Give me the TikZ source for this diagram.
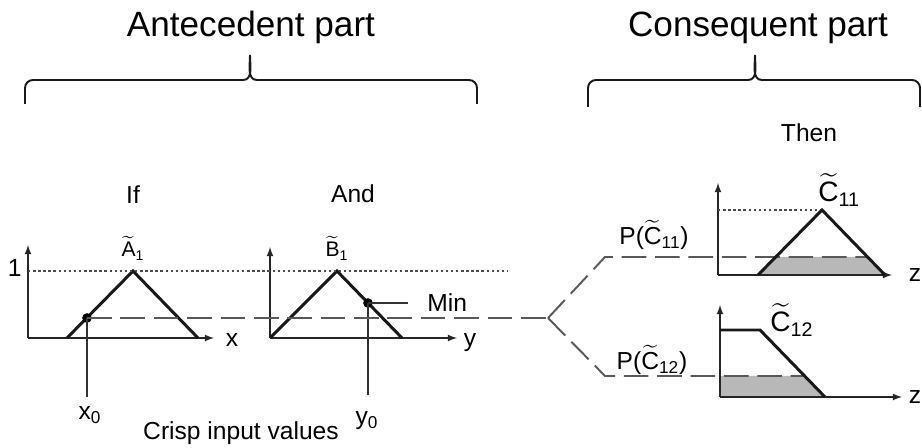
\documentclass[tikz,border=0pt]{standalone}
\usepackage{amsmath}
\usepackage{fontspec}
\setmainfont{Liberation Sans}
\usetikzlibrary{calc}

\newcommand{\tl}[1]{$\widetilde{\text{#1}}$}

\begin{document}
\begin{tikzpicture}[x=0.02cm,y=-0.02cm]
\tikzstyle{axis}=[line width=0.8pt,black!85,-latex]
\tikzstyle{mf}=[line width=1.7pt,black!90,line join=miter]
\tikzstyle{cut}=[line width=1.1pt,black!65,dash pattern=on 14pt off 5pt]
\tikzstyle{one}=[line width=0.9pt,black!70,dash pattern=on 1.4pt off 1.5pt]
\tikzstyle{stem}=[line width=0.8pt,black!80]
\tikzstyle{brace}=[line width=1.1pt,black!90]
\tikzstyle{shade}=[fill=black!28,draw=none]
\tikzstyle{dot}=[circle,fill=black,inner sep=0pt,minimum size=5.5pt]
\tikzstyle{lbl}=[inner sep=0pt,anchor=base,font=\fontsize{14}{16}\selectfont]
\tikzstyle{head}=[inner sep=0pt,anchor=base,font=\fontsize{20}{24}\selectfont]

	\useasboundingbox (0,0) rectangle (922,448);

	% headings and braces
	\node[head] (ante) at (251,37) {Antecedent part};
	\node[head] (cons) at (758,37) {Consequent part};
	\draw[brace] (25,104) -- (25,88) to[out=90,in=180] (33,80) -- (243,80) to[out=0,in=-90] (250,55) to[out=-90,in=180] (257,80) -- (469,80) to[out=0,in=90] (477,88) -- (477,104);
	\draw[brace] (588,107) -- (588,88) to[out=90,in=180] (596,80) -- (748,80) to[out=0,in=-90] (755,55) to[out=-90,in=180] (762,80) -- (912,80) to[out=0,in=90] (920,88) -- (920,107);

	% shaded parts of the consequents
	\begin{scope}[shift={(718,275)}]
		\fill[shade] (40,0) -- (58,-18) -- (149,-18) -- (167,0) -- cycle;
	\end{scope}
	\begin{scope}[shift={(720,397)}]
		\fill[shade] (0,0) -- (0,-21) -- (85,-21) -- (105,0) -- cycle;
	\end{scope}

	% if
	\begin{scope}[shift={(28,338)}]
		\draw[axis] (0,0) -- (0,-93);
		\draw[axis] (0,0) -- (186,0);
		\draw[mf] (39,0) -- (105,-67) -- (170,0);
		\coordinate (onea) at (0,-67);
		\node[dot] (pa) at (59,-20) {};
		\coordinate (xfoot) at (59,59);
		\node[lbl] (xlab) at (204,9) {x};
		\node[lbl,font=\fontsize{12}{14}\selectfont] (Atl) at (105,-81) {\tl{A}$_{\text{1}}$};
		\node[lbl] (if) at (105,-134) {If};
		\node[lbl] (x0) at (62,82) {x$_{\text{0}}$};
	\end{scope}
	\node[lbl,anchor=base east] (one) at (22,277) {1};

	% and
	\begin{scope}[shift={(270,338)}]
		\draw[axis] (0,0) -- (0,-91);
		\draw[axis] (0,0) -- (187,0);
		\draw[mf] (0,0) -- (67,-67) -- (132,0);
		\node[dot] (pb) at (98,-35) {};
		\coordinate (minend) at (138,-35);
		\coordinate (yfoot) at (98,57);
		\node[lbl] (ylab) at (200,9) {y};
		\node[lbl,font=\fontsize{12}{14}\selectfont] (Btl) at (67,-81) {\tl{B}$_{\text{1}}$};
		\node[lbl] (and) at (83,-135) {And};
		\node[lbl,anchor=base west] (min) at (157,-26) {Min};
		\node[lbl] (y0) at (97,87) {y$_{\text{0}}$};
	\end{scope}

	\draw[one] (onea) -- (507,271);
	\draw[stem] (pa.center) -- (xfoot);
	\draw[stem] (pb.center) -- (yfoot);
	\draw[stem] (pb.center) -- (minend);
	\node[lbl] (crisp) at (241,440) {Crisp input values};

	% then
	\coordinate (junc) at (548,318);
	\coordinate (cu) at (605,257);
	\coordinate (cuend) at (867,257);
	\coordinate (cl) at (605,376);
	\coordinate (clend) at (805,376);
	\draw[cut] (pa.center) -- (junc);
	\draw[cut] (junc) -- (cu) -- (cuend);
	\draw[cut] (junc) -- (cl) -- (clend);

	\node[lbl] (then) at (809,142) {Then};
	\node[lbl] (pc11) at (654,245) {P(\tl{C}$_{\text{11}}$)};
	\node[lbl] (pc12) at (652,370) {P(\tl{C}$_{\text{12}}$)};

	\begin{scope}[shift={(718,275)}]
		\draw[axis] (0,0) -- (0,-92);
		\draw[axis] (0,0) -- (174,0);
		\draw[one] (0,-65) -- (104,-65);
		\draw[mf] (40,0) -- (104,-65) -- (167,0);
		\node[lbl,anchor=base west,font=\fontsize{16}{18}\selectfont] (c11) at (100,-73) {\tl{C}$_{\text{11}}$};
		\node[lbl] (z1) at (197,7) {z};
	\end{scope}

	\begin{scope}[shift={(720,397)}]
		\draw[axis] (0,0) -- (0,-92);
		\draw[axis] (0,0) -- (182,0);
		\draw[mf] (0,-67) -- (40,-67) -- (105,0);
		\node[lbl,anchor=base west,font=\fontsize{16}{18}\selectfont] (c12) at (50,-65) {\tl{C}$_{\text{12}}$};
		\node[lbl] (z2) at (195,7) {z};
	\end{scope}

\end{tikzpicture}
\end{document}
